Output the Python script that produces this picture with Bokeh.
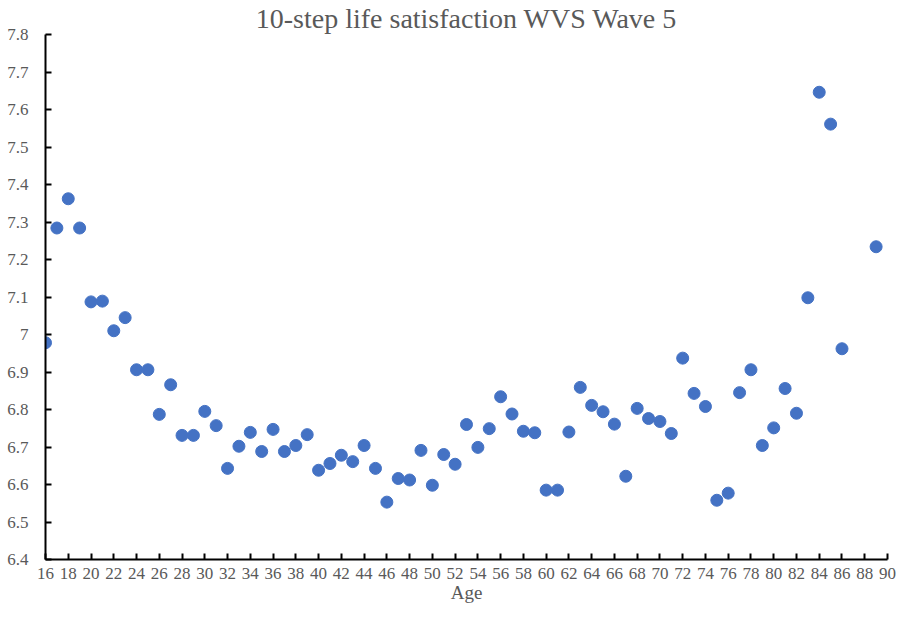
from bokeh.plotting import figure
from bokeh.models import Range1d, FixedTicker, CustomJSTickFormatter, ColumnDataSource
from bokeh.embed import file_html
from bokeh.resources import INLINE

title_text = "10-step life satisfaction WVS Wave 5"
x_label = "Age"

ages = [16, 17, 18, 19, 20, 21, 22, 23, 24, 25, 26, 27, 28, 29, 30, 31, 32, 33,
        34, 35, 36, 37, 38, 39, 40, 41, 42, 43, 44, 45, 46, 47, 48, 49, 50, 51,
        52, 53, 54, 55, 56, 57, 58, 59, 60, 61, 62, 63, 64, 65, 66, 67, 68, 69,
        70, 71, 72, 73, 74, 75, 76, 77, 78, 79, 80, 81, 82, 83, 84, 85, 86, 89]
satisfaction = [6.978, 7.284, 7.362, 7.284, 7.087, 7.089, 7.010, 7.045, 6.906, 6.906,
                6.787, 6.866, 6.731, 6.731, 6.795, 6.757, 6.643, 6.702, 6.739, 6.688,
                6.747, 6.688, 6.704, 6.733, 6.638, 6.656, 6.678, 6.661, 6.704, 6.643,
                6.553, 6.616, 6.612, 6.691, 6.598, 6.680, 6.654, 6.760, 6.699, 6.749,
                6.834, 6.788, 6.742, 6.738, 6.585, 6.585, 6.740, 6.859, 6.811, 6.794,
                6.761, 6.622, 6.803, 6.776, 6.768, 6.736, 6.937, 6.843, 6.808, 6.558,
                6.577, 6.845, 6.906, 6.704, 6.751, 6.856, 6.790, 7.098, 7.646, 7.561,
                6.962, 7.234]

x_ticks = list(range(16, 91, 2))
y_ticks = [6.4, 6.5, 6.6, 6.7, 6.8, 6.9, 7.0, 7.1, 7.2, 7.3, 7.4, 7.5, 7.6, 7.7, 7.8]

FONT = "Liberation Serif"
GREY = "#595959"

src = ColumnDataSource(dict(age=ages, val=satisfaction))

p = figure(width=896, height=605, output_backend="svg", toolbar_location=None,
           x_range=Range1d(16, 90), y_range=Range1d(6.4, 7.8),
           min_border_left=45, min_border_right=9, min_border_top=0, min_border_bottom=44)

p.title.text = title_text
p.title.align = "center"
p.title.offset = -5
p.title.standoff = 1
p.title.text_font = FONT
p.title.text_font_size = "28px"
p.title.text_font_style = "normal"
p.title.text_color = GREY

p.scatter("age", "val", source=src, size=12, color="#4472C4", line_color="#4472C4")

p.grid.visible = False
p.outline_line_color = None

for ax in (p.xaxis[0], p.yaxis[0]):
    ax.axis_line_color = "black"
    ax.axis_line_width = 2
    ax.major_tick_line_color = "black"
    ax.major_tick_line_width = 2
    ax.major_tick_in = 6
    ax.major_tick_out = 0
    ax.minor_tick_line_color = None
    ax.major_label_text_font = FONT
    ax.major_label_text_font_size = "17px"
    ax.major_label_text_color = GREY
    ax.axis_label_text_font = FONT
    ax.axis_label_text_font_size = "19px"
    ax.axis_label_text_font_style = "normal"
    ax.axis_label_text_color = GREY

p.xaxis.ticker = FixedTicker(ticks=x_ticks)
p.yaxis.ticker = FixedTicker(ticks=y_ticks)
p.yaxis.formatter = CustomJSTickFormatter(code="return String(Number(tick.toFixed(1)));")
p.xaxis.axis_label = x_label
p.xaxis.major_label_standoff = 8
p.xaxis.axis_label_standoff = 0
p.yaxis.major_label_standoff = 17

open("out.html", "w").write(file_html(p, INLINE))
